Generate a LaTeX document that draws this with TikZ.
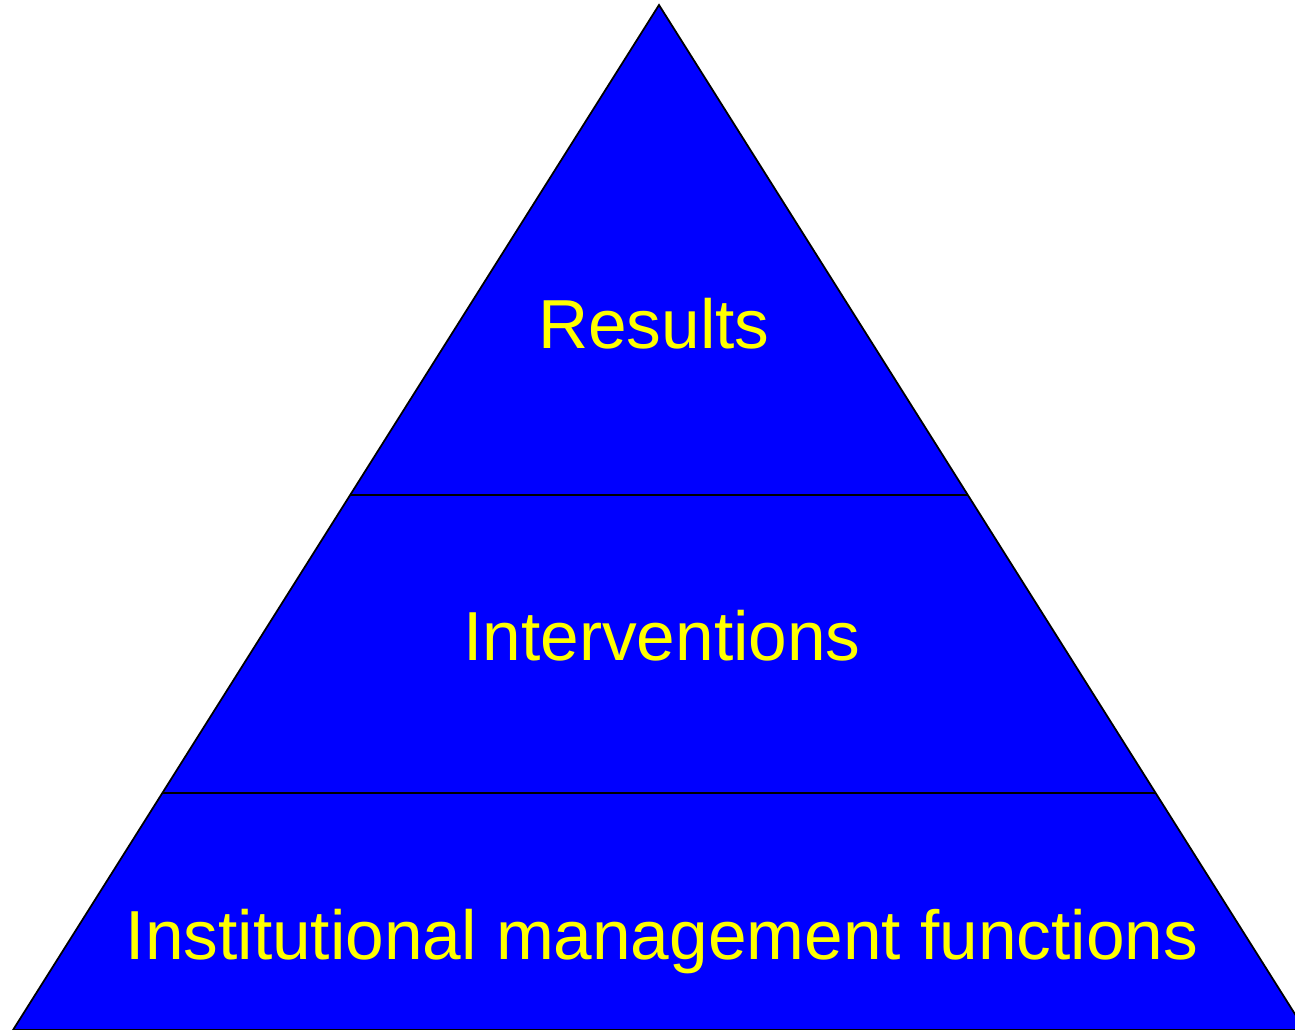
\documentclass[tikz,border=0pt]{standalone}
\usepackage{fontspec}
\setmainfont{Liberation Sans}
\begin{document}
\begin{tikzpicture}[x=0.02cm,y=-0.02cm,
  layer/.style={fill={rgb,255:red,0;green,0;blue,255},draw=black,line width=1pt,line join=miter},
  divider/.style={draw=black,line width=1.2pt},
  label/.style={text={rgb,255:red,255;green,255;blue,0},font=\fontsize{39.5}{41}\selectfont,inner sep=0pt}]
\useasboundingbox (0,0) rectangle (1295,1030);
\clip (0,0) rectangle (1295,1030);
\coordinate (apex) at (659,5);
\coordinate (bl) at (13,1030);
\coordinate (br) at (1305,1030);
\coordinate (d1l) at (350,495);
\coordinate (d1r) at (968,495);
\coordinate (d2l) at (162,793);
\coordinate (d2r) at (1156,793);
\path[layer] (apex) -- (br) -- (bl) -- cycle;
\draw[divider] (d1l) -- (d1r);
\draw[divider] (d2l) -- (d2r);
\node[label] (res) at (654,324) {Results};
\node[label] (int) at (662,636) {Interventions};
\node[label] (inst) at (662,942) {Institutional management functions};
\end{tikzpicture}
\end{document}
